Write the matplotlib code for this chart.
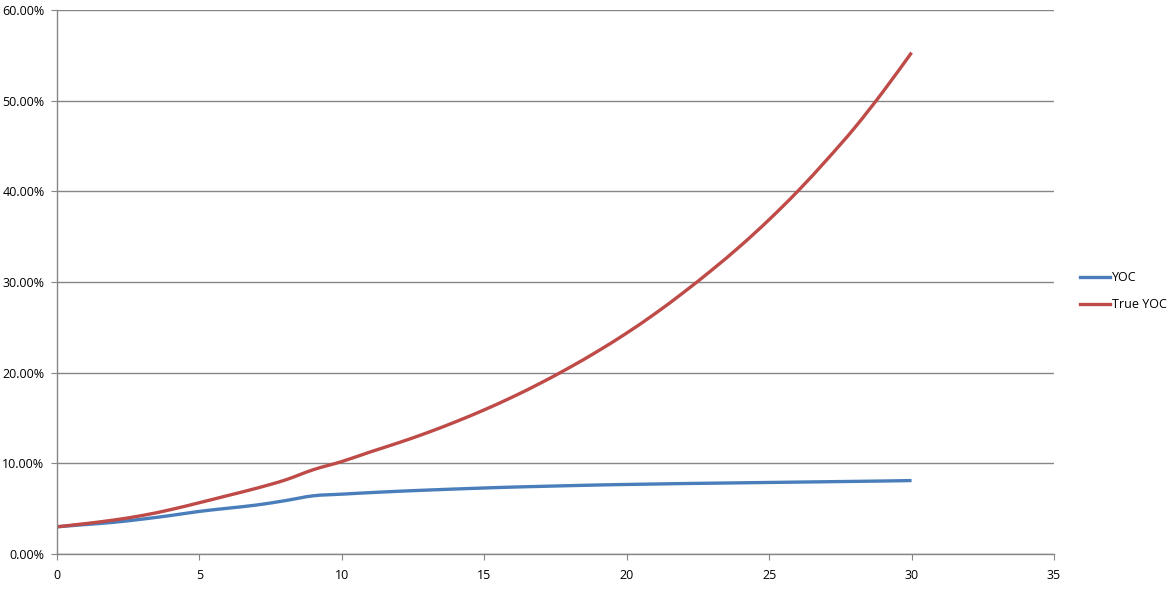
import matplotlib
matplotlib.use("Agg")
import matplotlib.pyplot as plt
import numpy as np
from matplotlib.ticker import FuncFormatter, MultipleLocator
from matplotlib.path import Path
from matplotlib.patches import PathPatch
from matplotlib.lines import Line2D

years = list(range(0, 31))
yoc = [3.00, 3.25, 3.50, 3.85, 4.25, 4.70, 5.05, 5.40, 5.88, 6.42,
       6.60, 6.77, 6.92, 7.05, 7.17, 7.28, 7.38, 7.46, 7.54, 7.61,
       7.67, 7.72, 7.77, 7.81, 7.85, 7.89, 7.93, 7.97, 8.01, 8.05, 8.10]
true_yoc = [3.00, 3.35, 3.75, 4.25, 4.90, 5.66, 6.45, 7.25, 8.15, 9.30,
            10.20, 11.26, 12.28, 13.38, 14.59, 15.90, 17.33, 18.89, 20.58, 22.40,
            24.37, 26.52, 28.86, 31.35, 34.00, 36.88, 40.00, 43.40, 47.00, 51.00, 55.30]
series_names = ["YOC", "True YOC"]
colors = ["#4A7EBB", "#BE4B48"]

plt.rcParams['font.family'] = ['Open Sans', 'DejaVu Sans']

fig = plt.figure(figsize=(11.69, 5.96), dpi=100)
ax = fig.add_axes([57/1169, 42/596, (1054-57)/1169, (554-10)/596])


def smooth_path(x, y, t=1/6):
    """Excel-style smoothed line: cubic Bezier segments through the data points."""
    x = np.asarray(x, float)
    y = np.asarray(y, float)
    n = len(x)
    verts = [(x[0], y[0])]
    codes = [Path.MOVETO]
    for i in range(n - 1):
        p0 = (x[i - 1], y[i - 1]) if i > 0 else (x[i], y[i])
        p1 = (x[i], y[i])
        p2 = (x[i + 1], y[i + 1])
        p3 = (x[i + 2], y[i + 2]) if i + 2 < n else (x[i + 1], y[i + 1])
        c1 = (p1[0] + (p2[0] - p0[0]) * t, p1[1] + (p2[1] - p0[1]) * t)
        c2 = (p2[0] - (p3[0] - p1[0]) * t, p2[1] - (p3[1] - p1[1]) * t)
        verts += [c1, c2, p2]
        codes += [Path.CURVE4] * 3
    return Path(verts, codes)


for vals, col in zip([yoc, true_yoc], colors):
    patch = PathPatch(smooth_path(years, vals), facecolor='none', edgecolor=col,
                      lw=2.4, capstyle='butt', joinstyle='round', transform=ax.transData)
    ax.add_patch(patch)

ax.set_xlim(0, 35)
ax.set_ylim(0, 60)
ax.xaxis.set_major_locator(MultipleLocator(5))
ax.yaxis.set_major_locator(MultipleLocator(10))
ax.yaxis.set_major_formatter(FuncFormatter(lambda v, p: f"{v:.2f}%"))

gray = "#868686"
ax.grid(axis='y', color=gray, lw=1)
ax.set_axisbelow(True)
for s in ['top', 'right']:
    ax.spines[s].set_visible(False)
for s in ['left', 'bottom']:
    ax.spines[s].set_color(gray)
    ax.spines[s].set_linewidth(1)
ax.tick_params(axis='both', direction='out', length=4, color=gray, labelsize=9, labelcolor='black')
ax.tick_params(axis='x', pad=7)
ax.tick_params(axis='y', pad=5)

handles = [Line2D([], [], color=c, lw=2.4) for c in colors]
leg = ax.legend(handles, series_names, loc='center left', bbox_to_anchor=(1.015, 0.483),
                frameon=False, fontsize=9, handlelength=2.4, handletextpad=0.15,
                labelspacing=1.1)

fig.savefig("out.png", dpi=100)
